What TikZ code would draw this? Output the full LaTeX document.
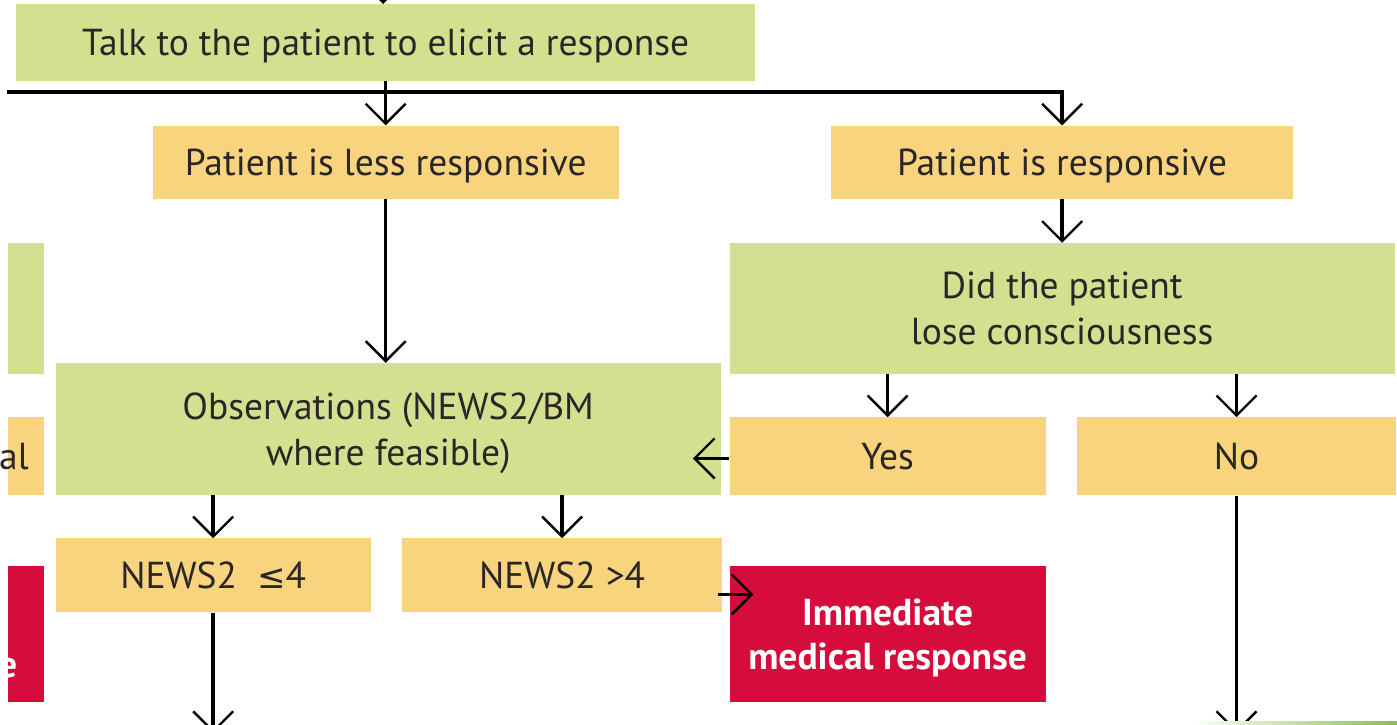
\documentclass[tikz,border=0pt]{standalone}
\usepackage{fontspec}
\setmainfont{PT Sans}
\newfontfamily\symfont{DejaVu Sans}
\usepackage{tikz}
\usetikzlibrary{arrows.meta, positioning, calc}
\definecolor{askgreen}{HTML}{D4E090}
\definecolor{stateorange}{HTML}{F9D47F}
\definecolor{alertred}{HTML}{D50C3C}
\definecolor{inkdark}{HTML}{2A2626}
\definecolor{edgegreen}{HTML}{8CC04A}

\begin{document}
\begin{tikzpicture}[
  x=1pt, y=-1pt,
  box/.style={rectangle, inner sep=0pt, text depth=0pt, align=center, text=inkdark, font=\fontsize{37.5}{46}\selectfont},
  ask/.style={box, fill=askgreen},
  state/.style={box, fill=stateorange},
  alert/.style={box, fill=alertred, text=white, font=\bfseries\fontsize{37.5}{44}\selectfont},
  stub/.style={minimum width=36pt, text width=36pt, align=left},
  arr/.style={-{Straight Barb[length=20pt, width=40pt, line width=2.4pt]}, line width=3.5pt}
]
\useasboundingbox (0,0) rectangle (1397,724);
\clip (0,0) rectangle (1397,724);

% Haut : prise de contact
\node[ask, anchor=north west, minimum width=739pt, minimum height=77pt] (talk) at (16,4) {Talk to the patient to elicit a response};
\coordinate (intop) at (383,-40);
\draw[arr] (intop) -- (intop |- talk.north);

% Deux branches
\node[state, below=44pt of talk, minimum width=466pt, minimum height=73pt] (less) {Patient is less responsive};
\node[state, right=212pt of less, minimum width=462pt, minimum height=73pt] (resp) {Patient is responsive};
\coordinate (brleft) at (7,92);
\draw[arr] (talk) -- (less);
\draw[arr] (brleft) -| (resp.north);

% Perte de connaissance ?
\node[ask, below=44pt of resp, minimum width=665pt, minimum height=131pt] (lost) {Did the patient\\lose consciousness};
\draw[arr] (resp) -- (lost);
\node[state, below=43pt of lost.south west, anchor=north west, minimum width=316pt, minimum height=78pt] (yes) {Yes};
\node[state, right=31pt of yes, minimum width=319pt, minimum height=78pt] (no) {No};
\draw[arr] (yes.north |- lost.south) -- (yes.north);
\draw[arr] (no.north |- lost.south) -- (no.north);

% Observations
\node[ask, below=164pt of less, xshift=2.5pt, minimum width=665pt, minimum height=132pt] (obs) {Observations (NEWS2/BM\\where feasible)};
\draw[arr] (less.south) -- (less.south |- obs.north);
\draw[arr, shorten >=-28pt] ([yshift=-2pt]yes.west) -- ([yshift=-2pt]yes.west -| obs.east);

% Score NEWS2
\node[state, below=43pt of obs.south west, anchor=north west, minimum width=315pt, minimum height=74pt] (low) {NEWS2\ \ {\symfont\fontsize{34}{46}\selectfont ≤}4};
\node[state, right=31pt of low, minimum width=320pt, minimum height=74pt] (high) {NEWS2 >4};
\draw[arr] (low.north |- obs.south) -- (low.north);
\draw[arr] (high.north |- obs.south) -- (high.north);

% Réponse médicale
\node[alert, below=70pt of yes, minimum width=316pt, minimum height=136pt] (medic) {Immediate\\medical response};
\draw[arr, shorten <=-4pt, shorten >=-24pt] ([yshift=-19pt]high.east) -- ([yshift=-19pt]high.east -| medic.west);

% Sorties vers le bas
\coordinate (lowout) at (212.5,733);
\coordinate (noout) at (1236,733);
\draw[arr] (low.south) -- (low.south |- lowout);
\draw[arr] (no.south) -- (no.south |- noout);

% Boîtes coupées à gauche
\node[ask, stub, left=685pt of lost, minimum height=131pt] (leftask) {};
\node[state, stub, left=685pt of yes, minimum height=78pt] (leftstate) {\hspace*{-9pt}al};
\node[alert, stub, left=685pt of medic, minimum height=136pt] (leftalert) {\mbox{}\\\hspace*{-10pt}e};

% Bord vert en bas à droite
\fill[left color=white, right color=edgegreen] (1190,721) rectangle (1397,730);
\end{tikzpicture}
\end{document}
